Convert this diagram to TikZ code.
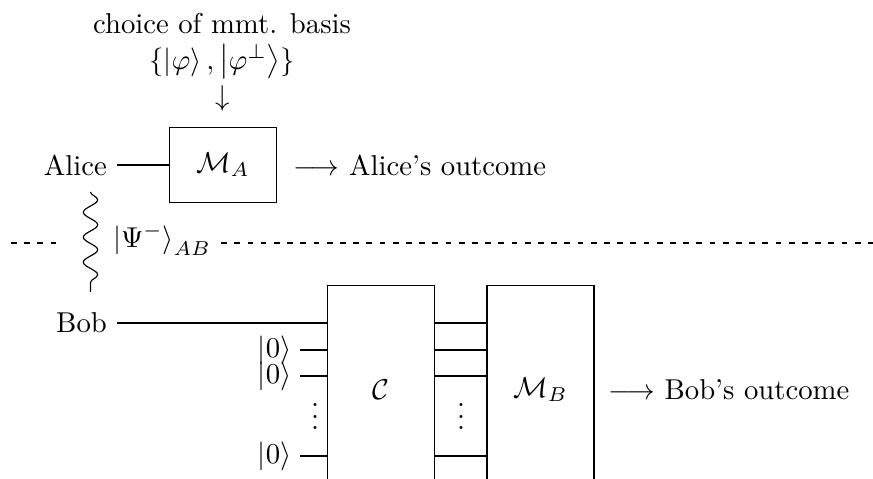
\documentclass[tikz,border=0pt]{standalone}
\usetikzlibrary{positioning,decorations.pathmorphing}
\begin{document}
\begin{tikzpicture}[x=1.2245mm,y=-1.2245mm,
    gate/.style={draw, minimum width=13mm, inner sep=0pt},
    tall/.style={gate, minimum height=25.5mm},
    ancilla/.style={anchor=east, inner sep=0pt},
    cut/.style={dash pattern=on 2pt off 2.6pt},
    wavy/.style={decorate, decoration={snake, amplitude=2.5pt, segment length=8.7pt}}]
    \useasboundingbox (0,0) rectangle (87.3,47.9);

    % Alice
    \node[inner sep=1pt] (choice) at (22.2,2.4) {choice of mmt. basis};
    \node[inner sep=1pt] (basis) at (22.2,6.2) {$\{\left|\varphi\right\rangle,\left|\varphi^{\perp}\right\rangle\}$};
    \node[inner sep=1pt] (down) at (22.3,9.8) {$\downarrow$};
    \node[gate, minimum height=9.2mm] (MA) at (22.3,16.5) {$\mathcal{M}_A$};
    \node[anchor=east] (alice) at (11.7,16.5) {Alice};
    \node[right=0.8mm of MA] (outA) {$\longrightarrow$ Alice's outcome};
    \draw (alice) -- (MA);

    % verschraenkter Zustand
    \coordinate (wtop) at (9.05,19.2);
    \coordinate (wbot) at (9.05,29.2);
    \draw[wavy] (wtop) -- (wbot);
    \node[anchor=west] (psi) at (10.3,24.0) {$\left|\Psi^-\right\rangle_{AB}$};
    \coordinate (cutL) at (1.1,24.3);
    \coordinate (cutM) at (5.8,24.3);
    \coordinate (cutR) at (87.3,24.3);
    \draw[cut] (cutL) -- (cutM);
    \draw[cut] (psi.east |- cutL) -- (cutR);

    % Bob
    \node[anchor=east] (bob) at (11.7,32.3) {Bob};
    \node[tall] (C) at (38.1,39.0) {$\mathcal{C}$};
    \node[tall, minimum width=13.1mm] (MB) at (54.05,39.0) {$\mathcal{M}_B$};
    \node[right=0.5mm of MB] (outB) {$\longrightarrow$ Bob's outcome};
    \node[ancilla] (k1) at (29.2,35.0) {$|0\rangle$};
    \node[ancilla] (k2) at (29.2,37.6) {$|0\rangle$};
    \node[ancilla] (k3) at (29.2,45.6) {$|0\rangle$};
    \node[inner sep=0pt] (dotsL) at (31.5,40.8) {$\vdots$};
    \node[inner sep=0pt] (dotsR) at (46.1,40.8) {$\vdots$};

    % Leitungen
    \draw (bob) -- (bob -| C.west);
    \foreach \k in {k1,k2,k3}
        \draw ([xshift=1mm]\k.east) -- (\k.east -| C.west);
    \foreach \k in {bob,k1,k2,k3}
        \draw (\k -| C.east) -- (\k -| MB.west);
\end{tikzpicture}
\end{document}
